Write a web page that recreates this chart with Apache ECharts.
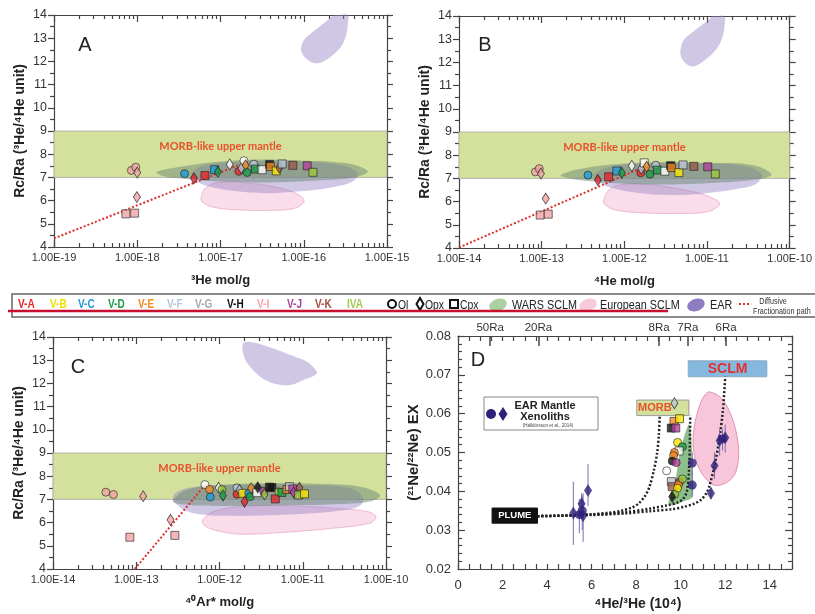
<!DOCTYPE html>
<html>
<head>
<meta charset="utf-8">
<script src="https://cdn.jsdelivr.net/npm/echarts@6/dist/echarts.min.js"></script>
<style>
html,body{margin:0;padding:0;background:#fff;}
#chart{width:815px;height:614px;}
</style>
</head>
<body>
<div id="chart"></div>
<script>
// ---------- sample groups and minerals ----------
const groupNames      = ['V-A','V-B','V-C','V-D','V-E','V-F','V-G','V-H','V-I','V-J','V-K','IVA'];
const groupTextColors = ['#e3262b','#efe000','#1f9bd7','#1d9a47','#f28a23','#b5c7dc','#a9a9a9','#111111','#f4a3ab','#a2479b','#a24c45','#a3c955'];
const groupFills      = ['#e3262b','#f7e600','#1f9bd7','#1d9a47','#f28a23','#b9c6d6','#ffffff','#111111','#f0a3a3','#b0449a','#9b5a4a','#9bc83c'];
const mineralNames    = ['Ol','Opx','Cpx'];
const mineralSymbols  = ['circle','diamond','rect'];
const mineralSizes    = [[8,8],[7,11],[8,8]];

// ---------- panel A : 3He (mol/g) vs Rc/Ra ----------
const ptsA = [
  [8.5e-19,7.30,'V-I','Ol'],[9.6e-19,7.44,'V-I','Ol'],[1.0e-18,7.21,'V-I','Opx'],
  [9.9e-19,6.15,'V-I','Opx'],[7.3e-19,5.43,'V-I','Cpx'],[9.3e-19,5.46,'V-I','Cpx'],
  [3.7e-18,7.16,'V-C','Ol'],[4.8e-18,6.96,'V-A','Opx'],[6.5e-18,7.08,'V-A','Cpx'],
  [8.5e-18,7.33,'V-C','Cpx'],[9.3e-18,7.24,'V-D','Opx'],[1.29e-17,7.56,'V-G','Opx'],
  [1.66e-17,7.26,'V-A','Ol'],[1.78e-17,7.40,'V-F','Opx'],[1.91e-17,7.72,'V-G','Ol'],
  [2.0e-17,7.52,'V-E','Opx'],[2.09e-17,7.21,'V-D','Ol'],[2.51e-17,7.57,'V-F','Ol'],
  [2.63e-17,7.36,'V-D','Cpx'],[3.16e-17,7.33,'V-G','Cpx'],[3.89e-17,7.56,'V-H','Cpx'],
  [3.98e-17,7.47,'V-E','Cpx'],[4.68e-17,7.28,'V-B','Cpx'],[5.1e-17,7.42,'V-K','Opx'],
  [5.5e-17,7.58,'V-F','Cpx'],[7.4e-17,7.52,'V-K','Cpx'],[1.1e-16,7.50,'V-J','Cpx'],
  [1.29e-16,7.22,'IVA','Cpx']
];
const fracA = [[1e-19,4.37],[1.7e-17,7.55]];

// ---------- panel B : 4He (mol/g) vs Rc/Ra ----------
const ptsB = [
  [8.4e-14,7.28,'V-I','Ol'],[9.35e-14,7.42,'V-I','Ol'],[9.8e-14,7.21,'V-I','Opx'],
  [1.12e-13,6.13,'V-I','Opx'],[9.6e-14,5.42,'V-I','Cpx'],[1.2e-13,5.46,'V-I','Cpx'],
  [3.63e-13,7.14,'V-C','Ol'],[4.79e-13,6.93,'V-A','Opx'],[6.46e-13,7.07,'V-A','Cpx'],
  [8.13e-13,7.32,'V-C','Cpx'],[9.33e-13,7.24,'V-D','Opx'],[1.23e-12,7.54,'V-G','Opx'],
  [1.58e-12,7.24,'V-A','Ol'],[1.6e-12,7.42,'V-F','Opx'],[1.74e-12,7.67,'V-G','Cpx'],
  [1.86e-12,7.50,'V-E','Opx'],[2.04e-12,7.18,'V-D','Ol'],[2.4e-12,7.57,'V-F','Ol'],
  [2.51e-12,7.36,'V-D','Cpx'],[3.09e-12,7.31,'V-G','Cpx'],[3.63e-12,7.55,'V-H','Cpx'],
  [3.72e-12,7.47,'V-E','Cpx'],[4.57e-12,7.25,'V-B','Cpx'],[5.13e-12,7.58,'V-F','Cpx'],
  [6.92e-12,7.52,'V-K','Cpx'],[1.02e-11,7.50,'V-J','Cpx'],[1.26e-11,7.19,'IVA','Cpx']
];
const fracB = [[1e-14,4.02],[1.86e-12,7.55]];

// ---------- panel C : 40Ar* (mol/g) vs Rc/Ra ----------
const ptsC = [
  [4.31e-14,7.31,'V-I','Ol'],[5.32e-14,7.21,'V-I','Ol'],[1.21e-13,7.14,'V-I','Opx'],
  [2.58e-13,6.12,'V-I','Opx'],[8.38e-14,5.37,'V-I','Cpx'],[2.91e-13,5.45,'V-I','Cpx'],
  [6.68e-13,7.64,'V-G','Ol'],[7.59e-13,7.43,'V-E','Ol'],[7.76e-13,7.10,'V-C','Ol'],
  [9.77e-13,7.50,'V-G','Opx'],[1.07e-12,7.43,'IVA','Ol'],[1.10e-12,7.17,'V-D','Opx'],
  [1.62e-12,7.50,'V-F','Ol'],[1.62e-12,7.22,'V-A','Ol'],[1.74e-12,7.40,'V-F','Opx'],
  [1.9e-12,7.26,'V-B','Cpx'],[2.0e-12,6.90,'V-A','Opx'],[2.24e-12,7.26,'V-C','Ol'],
  [2.34e-12,7.12,'V-D','Ol'],[2.4e-12,7.48,'V-E','Opx'],[2.82e-12,7.29,'V-G','Cpx'],
  [2.88e-12,7.52,'V-H','Opx'],[3.39e-12,7.36,'V-J','Ol'],[3.47e-12,7.22,'IVA','Opx'],
  [3.98e-12,7.53,'V-H','Cpx'],[4.27e-12,7.51,'V-H','Cpx'],[4.68e-12,7.02,'V-A','Cpx'],
  [5.13e-12,7.33,'IVA','Ol'],[5.62e-12,7.30,'V-D','Cpx'],[6.46e-12,7.43,'V-E','Cpx'],
  [6.92e-12,7.55,'V-F','Cpx'],[7.59e-12,7.45,'V-J','Cpx'],[7.76e-12,7.30,'V-J','Opx'],
  [9.12e-12,7.50,'V-K','Opx'],[8.91e-12,7.19,'IVA','Cpx'],[1.05e-11,7.24,'V-B','Cpx']
];
const fracC = [[9.6e-14,4.0],[6.7e-13,7.62]];

// MORB-like upper mantle band (Rc/Ra)
const morbBand = [7, 9];

// ---------- field outlines for panels A-C (x in log10 mol/g, y in Rc/Ra) ----------
const earTopA = [[-16.03,12.64],[-15.99,12.95],[-15.91,13.21],[-15.81,13.50],[-15.71,13.78],[-15.65,13.97],[-15.57,14.0],[-15.47,14.0],[-15.47,13.64],[-15.49,13.14],[-15.55,12.64],[-15.65,12.28],[-15.77,11.99],[-15.87,11.92],[-15.95,12.06],[-16.02,12.35]];
const warsA   = [[-17.77,7.23],[-17.57,7.40],[-17.17,7.62],[-16.65,7.76],[-16.05,7.73],[-15.45,7.59],[-15.23,7.26],[-15.37,7.01],[-15.85,6.87],[-16.45,6.78],[-17.05,6.83],[-17.53,6.97],[-17.71,7.08]];
const earLowA = [[-17.35,7.19],[-17.17,7.54],[-16.65,7.69],[-16.05,7.69],[-15.57,7.54],[-15.35,7.19],[-15.41,6.83],[-15.65,6.58],[-16.05,6.40],[-16.45,6.32],[-16.85,6.42],[-17.17,6.64],[-17.31,6.90]];
const eurA    = [[-17.23,6.18],[-17.17,6.58],[-17.01,6.80],[-16.65,6.75],[-16.25,6.51],[-16.03,6.18],[-16.00,5.92],[-16.13,5.65],[-16.45,5.58],[-16.85,5.61],[-17.09,5.72],[-17.22,5.94]];

const earTopB = [[-11.32,12.58],[-11.28,12.97],[-11.20,13.23],[-11.10,13.51],[-11.00,13.77],[-10.94,13.97],[-10.86,14.0],[-10.79,14.0],[-10.79,13.51],[-10.82,13.01],[-10.90,12.51],[-11.02,12.11],[-11.14,11.84],[-11.22,11.87],[-11.29,12.08],[-11.32,12.34]];
const warsB   = [[-12.77,7.14],[-12.57,7.38],[-12.17,7.60],[-11.65,7.70],[-11.04,7.67],[-10.44,7.57],[-10.22,7.18],[-10.36,6.97],[-10.84,6.82],[-11.44,6.74],[-12.05,6.78],[-12.53,6.92],[-12.71,7.04]];
const earLowB = [[-12.37,7.14],[-12.17,7.50],[-11.65,7.64],[-11.04,7.64],[-10.56,7.54],[-10.34,7.18],[-10.40,6.78],[-10.64,6.54],[-11.04,6.35],[-11.44,6.28],[-11.85,6.38],[-12.17,6.61],[-12.31,6.85]];
const eurB    = [[-12.25,6.06],[-12.19,6.49],[-12.03,6.74],[-11.65,6.71],[-11.16,6.42],[-10.88,6.06],[-10.85,5.85],[-11.00,5.56],[-11.36,5.49],[-11.85,5.53],[-12.13,5.66],[-12.24,5.89]];

const earTopC = [[-11.72,13.71],[-11.65,13.79],[-11.47,13.64],[-11.19,13.28],[-10.95,12.93],[-10.83,12.50],[-10.85,12.36],[-10.99,12.15],[-11.15,11.93],[-11.35,12.00],[-11.51,12.29],[-11.65,12.79],[-11.71,13.21]];
const warsC   = [[-12.56,6.98],[-12.40,7.41],[-12.03,7.62],[-11.43,7.70],[-10.83,7.67],[-10.31,7.55],[-10.07,7.19],[-10.19,6.91],[-10.63,6.79],[-11.23,6.75],[-11.83,6.72],[-12.32,6.75],[-12.54,6.84]];
const earLowC = [[-12.56,7.12],[-12.40,7.48],[-11.83,7.62],[-11.03,7.62],[-10.43,7.48],[-10.27,7.05],[-10.33,6.69],[-10.63,6.48],[-11.23,6.34],[-11.83,6.29],[-12.24,6.36],[-12.46,6.62]];
const eurC    = [[-12.20,6.12],[-12.07,6.48],[-11.75,6.69],[-11.23,6.74],[-10.63,6.62],[-10.23,6.48],[-10.12,6.26],[-10.19,5.98],[-10.63,5.76],[-11.23,5.58],[-11.75,5.50],[-12.07,5.69],[-12.19,5.91]];

// ---------- panel D : 4He/3He (10^4) vs (21Ne/22Ne)EX ----------
const ptsD = [
  [9.72,0.0627,'V-F','Opx'],[9.70,0.0580,'V-E','Cpx'],[9.95,0.0587,'V-B','Cpx'],
  [9.58,0.0563,'V-H','Cpx'],[9.78,0.0563,'V-J','Cpx'],[9.86,0.0526,'V-B','Ol'],
  [10.08,0.0515,'V-D','Ol'],[9.93,0.0504,'V-G','Cpx'],[9.72,0.0500,'V-E','Ol'],
  [9.68,0.0492,'V-E','Ol'],[9.62,0.0478,'V-H','Ol'],[9.80,0.0474,'V-J','Ol'],
  [9.37,0.0453,'V-G','Ol'],[9.58,0.0425,'V-F','Cpx'],[9.62,0.0412,'V-K','Cpx'],
  [9.95,0.0424,'V-A','Ol'],[9.90,0.0417,'V-E','Ol'],[10.08,0.0432,'IVA','Ol'],
  [9.86,0.0408,'V-B','Ol'],[9.73,0.0392,'IVA','Ol'],[9.62,0.0386,'V-H','Opx']
];
// EAR mantle xenoliths: [shape, x, y, low, high]
const earXenoliths = [
  ['diamond',5.18,0.0344,0.0262,0.0425],['circle',5.45,0.0340,0.0292,0.0380],
  ['diamond',5.55,0.0368,0.0330,0.0395],['circle',5.58,0.0350,0.0300,0.0390],
  ['diamond',5.62,0.0337,0.0270,0.0395],['diamond',5.84,0.0402,0.0362,0.0470],
  ['circle',10.52,0.0473,0.0440,0.0500],['circle',10.52,0.0416,0.0385,0.0450],
  ['diamond',11.36,0.0395,0.0380,0.0410],['diamond',11.52,0.0466,0.0432,0.0500],
  ['diamond',11.75,0.0531,0.0492,0.0560],['circle',11.88,0.0535,0.0505,0.0560],
  ['diamond',12.00,0.0538,0.0500,0.0572]
];
// mixing curves from the plume end-member
const mixToRa8  = [[3.57,0.0336],[5,0.0338],[6,0.0341],[6.8,0.0345],[7.33,0.0350],[7.8,0.0358],[8.1,0.0368],[8.4,0.0388],[8.6,0.0412],[8.8,0.0455],[8.94,0.0498],[9.02,0.0545],[9.06,0.0595]];
const mixToMorb = [[3.57,0.0336],[6,0.0340],[7.5,0.0346],[8.65,0.0356],[9.4,0.0364],[9.85,0.0371],[10.1,0.0380],[10.28,0.0400],[10.37,0.0450],[10.41,0.0520],[10.43,0.0595]];
const mixToSclm = [[3.57,0.0336],[6,0.0339],[7.5,0.0343],[8.65,0.0349],[9.6,0.0354],[10.15,0.0360],[10.6,0.0368],[10.91,0.0378],[11.15,0.0395],[11.28,0.0412],[11.51,0.0463],[11.73,0.0532],[11.9,0.0610],[12.0,0.0695]];
const warsD = [[10.38,0.0572],[10.10,0.0530],[9.93,0.0490],[9.80,0.0440],[9.62,0.0392],[9.45,0.0372],[9.62,0.0364],[10.10,0.0374],[10.52,0.0386],[10.53,0.0450],[10.50,0.0520]];
const eurD  = [[11.31,0.0656],[11.84,0.0639],[12.29,0.0592],[12.56,0.0532],[12.59,0.0481],[12.37,0.0438],[11.84,0.0417],[11.39,0.0419],[10.86,0.0455],[10.58,0.0506],[10.61,0.0566],[10.86,0.0622],[11.09,0.0648]];
const morbBoxD  = [8.03,0.0595,10.37,0.0635];
const sclmBoxD  = [10.34,0.0695,13.87,0.0736];
const plumeBoxD = [1.53,0.0318,3.57,0.0357];

// tick labels
const rcTicks   = [4,5,6,7,8,9,10,11,12,13,14];
const dXLabels  = [0,2,4,6,8,10,12,14];
const raValues  = [50,20,8,7,6];
const RA = 1.384e-6; // atmospheric 3He/4He
const raPos = raValues.map(r => 1 / (r * RA) / 1e4);

// ---------- helpers ----------
const FONT = "'Liberation Sans', Arial, sans-serif";
const AXIS_COLOR = '#444';
const NARROW_SCALE = 0.8; // condensed legend lettering
const lg = Math.log10;

function logMinorTicks(e0, e1) {
  const v = [];
  for (let d = e0; d < e1; d++) for (let k = 2; k <= 9; k++) v.push(d + lg(k));
  return v;
}
function symbolItem(x, y, g, m) {
  const gi = groupNames.indexOf(g), mi = mineralNames.indexOf(m);
  return { value: [x, y], symbol: mineralSymbols[mi], symbolSize: mineralSizes[mi],
           itemStyle: { color: groupFills[gi], borderColor: '#222', borderWidth: 0.8 } };
}
function regionSeries(xi, yi, outline, fill, stroke, z) {
  return {
    type: 'custom', xAxisIndex: xi, yAxisIndex: yi, silent: true, z: z,
    data: [outline[0]],
    renderItem: (params, api) => ({
      type: 'polygon',
      shape: { points: outline.map(p => api.coord(p)), smooth: 0.35 },
      style: { fill: fill, stroke: stroke || null, lineWidth: stroke ? 1 : 0 }
    })
  };
}

function bandSeries(xi, yi, e0, e1) {
  return {
    type: 'custom', xAxisIndex: xi, yAxisIndex: yi, silent: true, z: 1,
    data: [[e0, morbBand[0], e1, morbBand[1]]],
    renderItem: (params, api) => {
      const a = api.coord([api.value(0), api.value(3)]);
      const b = api.coord([api.value(2), api.value(1)]);
      const t = api.coord([(api.value(0) + api.value(2)) / 2, 8.35]);
      return { type: 'group', children: [
        { type: 'rect', shape: { x: a[0], y: a[1], width: b[0] - a[0], height: b[1] - a[1] },
          style: { fill: '#d4e19c', stroke: '#a5a5a5', lineWidth: 0.8 } },
        { type: 'text', x: t[0], y: t[1],
          style: { text: 'MORB-like upper mantle', fill: '#e9502c', font: "bold 11px Lato, 'Open Sans', sans-serif",
                   align: 'center', verticalAlign: 'middle' } }
      ]};
    }
  };
}
function boxSeries(xi, yi, box, fill, stroke, label, color, font, dx) {
  return {
    type: 'custom', xAxisIndex: xi, yAxisIndex: yi, silent: true, z: 3,
    data: [box],
    renderItem: (params, api) => {
      const a = api.coord([api.value(0), api.value(3)]);
      const b = api.coord([api.value(2), api.value(1)]);
      return { type: 'group', children: [
        { type: 'rect', shape: { x: a[0], y: a[1], width: b[0] - a[0], height: b[1] - a[1] },
          style: { fill: fill, stroke: stroke, lineWidth: 1 } },
        { type: 'text', x: (a[0] + b[0]) / 2 + dx, y: (a[1] + b[1]) / 2,
          style: { text: label, fill: color, font: font, align: 'center', verticalAlign: 'middle' } }
      ]};
    }
  };
}

// ---------- axes ----------
const grids = [
  { left: 54, top: 15, width: 333, height: 232 },
  { left: 459, top: 16, width: 333, height: 232 },
  { left: 53, top: 337, width: 333, height: 232 },
  { left: 458, top: 336, width: 334, height: 233 }
];
const xAxes = [], yAxes = [];
const lineStyle = { color: AXIS_COLOR, width: 1.2 };

function addLogPanel(gi, e0, e1, xName, yName) {
  const base = xAxes.length;
  xAxes.push({ gridIndex: gi, type: 'value', min: e0, max: e1, interval: 1, position: 'bottom',
    axisLine: { show: true, onZero: false, lineStyle }, splitLine: { show: false },
    axisTick: { inside: true, length: 7, lineStyle },
    axisLabel: { fontSize: 11, color: '#333', fontFamily: FONT, margin: 5,
                 formatter: v => Math.pow(10, v).toExponential(2).toUpperCase() },
    name: xName, nameLocation: 'middle', nameGap: 27,
    nameTextStyle: { fontSize: 13, fontWeight: 'bold', color: '#222', fontFamily: FONT } });
  xAxes.push({ gridIndex: gi, type: 'value', min: e0, max: e1, interval: 1, position: 'top',
    axisLine: { show: true, onZero: false, lineStyle }, splitLine: { show: false },
    axisTick: { inside: true, length: 7, lineStyle }, axisLabel: { show: false } });
  const minor = logMinorTicks(e0, e1);
  ['bottom', 'top'].forEach(pos => xAxes.push({ gridIndex: gi, type: 'value', min: e0, max: e1, position: pos,
    axisLine: { show: false, onZero: false }, splitLine: { show: false },
    axisTick: { inside: true, length: 4, customValues: minor, lineStyle }, axisLabel: { show: false } }));
  const yb = yAxes.length;
  yAxes.push({ gridIndex: gi, type: 'value', min: rcTicks[0], max: rcTicks[rcTicks.length - 1], interval: 1, position: 'left',
    axisLine: { show: true, onZero: false, lineStyle }, splitLine: { show: false },
    axisTick: { inside: false, length: 6, lineStyle },
    minorTick: { show: true, splitNumber: 2, length: 4, lineStyle },
    axisLabel: { fontSize: 12.5, color: '#333', fontFamily: FONT, margin: 7 },
    name: yName, nameLocation: 'middle', nameGap: 27,
    nameTextStyle: { fontSize: 14, fontWeight: 'bold', color: '#222', fontFamily: FONT } });
  yAxes.push({ gridIndex: gi, type: 'value', min: rcTicks[0], max: rcTicks[rcTicks.length - 1], interval: 1, position: 'right',
    axisLine: { show: true, onZero: false, lineStyle }, splitLine: { show: false },
    axisTick: { inside: false, length: 6, lineStyle },
    minorTick: { show: true, splitNumber: 2, length: 4, lineStyle },
    axisLabel: { show: false } });
  return { x: base, y: yb };
}

const axA = addLogPanel(0, -19, -15, '³He mol/g', 'Rc/Ra (³He/⁴He unit)');
const axB = addLogPanel(1, -14, -10, '⁴He mol/g', 'Rc/Ra (³He/⁴He unit)');
const axC = addLogPanel(2, -14, -10, '⁴⁰Ar* mol/g', 'Rc/Ra (³He/⁴He unit)');

// panel D axes
const dMinor = [];
for (let v = 0; v <= 15; v += 0.5) dMinor.push(v);
const axD = { x: xAxes.length, y: yAxes.length };
xAxes.push({ gridIndex: 3, type: 'value', min: 0, max: 15, position: 'bottom',
  axisLine: { show: true, onZero: false, lineStyle }, splitLine: { show: false },
  axisTick: { inside: true, length: 5, customValues: dMinor, lineStyle },
  axisLabel: { customValues: dXLabels, fontSize: 13, color: '#333', fontFamily: FONT, margin: 10 },
  name: '⁴He/³He (10⁴)', nameLocation: 'middle', nameGap: 28,
  nameTextStyle: { fontSize: 14, fontWeight: 'bold', color: '#222', fontFamily: FONT, padding: [0, 0, 0, 26] } });
xAxes.push({ gridIndex: 3, type: 'value', min: 0, max: 15, position: 'top',
  axisLine: { show: true, onZero: false, lineStyle }, splitLine: { show: false },
  axisTick: { inside: true, length: 5, customValues: dMinor, lineStyle }, axisLabel: { show: false } });
xAxes.push({ gridIndex: 3, type: 'value', min: 0, max: 15, position: 'top',
  axisLine: { show: false, onZero: false }, splitLine: { show: false },
  axisTick: { inside: true, length: 10, customValues: raPos, lineStyle: { color: AXIS_COLOR, width: 1.5 } },
  axisLabel: { customValues: raPos, fontSize: 11.5, color: '#333', fontFamily: FONT, margin: 2,
    formatter: v => raValues[raPos.findIndex(p => Math.abs(p - v) < 1e-6)] + 'Ra' } });
yAxes.push({ gridIndex: 3, type: 'value', min: 0.02, max: 0.08, interval: 0.01, position: 'left',
  axisLine: { show: true, onZero: false, lineStyle }, splitLine: { show: false },
  axisTick: { inside: true, length: 7, lineStyle },
  minorTick: { show: true, splitNumber: 5, length: 4, lineStyle },
  axisLabel: { fontSize: 13, color: '#333', fontFamily: FONT, margin: 7, formatter: v => v.toFixed(2) },
  name: '(²¹Ne/²²Ne) EX', nameLocation: 'middle', nameGap: 37,
  nameTextStyle: { fontSize: 15, fontWeight: 'bold', color: '#222', fontFamily: FONT } });
yAxes.push({ gridIndex: 3, type: 'value', min: 0.02, max: 0.08, interval: 0.01, position: 'right',
  axisLine: { show: true, onZero: false, lineStyle }, splitLine: { show: false },
  axisTick: { inside: true, length: 7, lineStyle },
  minorTick: { show: true, splitNumber: 5, length: 4, lineStyle },
  axisLabel: { show: false } });

// ---------- series ----------
const WARS = 'rgba(105,135,115,0.5)';
const EAR = 'rgba(150,130,195,0.45)';
const EUR = 'rgba(242,165,200,0.38)';
const EUR_LINE = 'rgba(225,140,180,0.55)';
const series = [];

function addLogPanelSeries(ax, e0, e1, pts, frac, earTop, wars, earLow, eur) {
  series.push(bandSeries(ax.x, ax.y, e0, e1));
  series.push(regionSeries(ax.x, ax.y, eur, EUR, EUR_LINE, 2));
  series.push(regionSeries(ax.x, ax.y, earLow, EAR, null, 2));
  series.push(regionSeries(ax.x, ax.y, earTop, EAR, null, 2));
  series.push(regionSeries(ax.x, ax.y, wars, WARS, null, 3));
  series.push({ type: 'line', xAxisIndex: ax.x, yAxisIndex: ax.y, silent: true, z: 4,
    data: frac.map(p => [lg(p[0]), p[1]]), symbol: 'none',
    lineStyle: { color: '#d9312b', width: 2, type: [2, 2] } });
  series.push({ type: 'scatter', xAxisIndex: ax.x, yAxisIndex: ax.y, silent: true, z: 6,
    data: pts.map(p => symbolItem(lg(p[0]), p[1], p[2], p[3])) });
}
addLogPanelSeries(axA, -19, -15, ptsA, fracA, earTopA, warsA, earLowA, eurA);
addLogPanelSeries(axB, -14, -10, ptsB, fracB, earTopB, warsB, earLowB, eurB);
addLogPanelSeries(axC, -14, -10, ptsC, fracC, earTopC, warsC, earLowC, eurC);

// panel D
series.push(regionSeries(axD.x, axD.y, eurD, '#f7c6da', '#e393b4', 2));
series.push(regionSeries(axD.x, axD.y, warsD, '#8dbf8b', null, 2));
[mixToRa8, mixToMorb, mixToSclm].forEach(c => series.push({
  type: 'line', xAxisIndex: axD.x, yAxisIndex: axD.y, silent: true, z: 4, smooth: 0.3,
  data: c, symbol: 'none', lineStyle: { color: '#222', width: 2.5, type: [2, 2] } }));
series.push(boxSeries(axD.x, axD.y, morbBoxD, '#d4e19c', '#9a9a9a', 'MORB', '#e9502c', "bold 11px 'Liberation Sans', Arial, sans-serif", -8));
series.push(boxSeries(axD.x, axD.y, sclmBoxD, '#84b8de', '#8aa8c0', 'SCLM', '#e3302c', "bold 14px 'Liberation Sans', Arial, sans-serif", 0));
series.push(boxSeries(axD.x, axD.y, plumeBoxD, '#111111', '#111111', 'PLUME', '#ffffff', "bold 9.5px 'Liberation Sans', Arial, sans-serif", 0));
series.push({
  type: 'custom', xAxisIndex: axD.x, yAxisIndex: axD.y, silent: true, z: 5,
  data: earXenoliths.map(r => [r[1], r[3], r[4]]),
  renderItem: (params, api) => {
    const a = api.coord([api.value(0), api.value(1)]);
    const b = api.coord([api.value(0), api.value(2)]);
    return { type: 'line', shape: { x1: a[0], y1: a[1], x2: b[0], y2: b[1] },
             style: { stroke: '#7a6db3', lineWidth: 1 } };
  }
});
series.push({ type: 'scatter', xAxisIndex: axD.x, yAxisIndex: axD.y, silent: true, z: 6,
  data: earXenoliths.map(r => ({ value: [r[1], r[2]], symbol: r[0],
    symbolSize: r[0] === 'circle' ? 9 : [8, 13], itemStyle: { color: '#2e1f78' } })) });
series.push({ type: 'scatter', xAxisIndex: axD.x, yAxisIndex: axD.y, silent: true, z: 6,
  data: ptsD.map(p => symbolItem(p[0], p[1], p[2], p[3])) });

// ---------- legend strip and annotations ----------
const legendY = 305;
const groupX = [18, 50, 78, 108, 138, 167, 195, 227, 257, 287, 315, 347];
function narrowText(x, y, text, fill, font, align) {
  return { type: 'text', x: x, y: y, scaleX: NARROW_SCALE, z: 11,
    style: { text: text, fill: fill, font: font, align: align || 'left', verticalAlign: 'middle' } };
}
const graphics = [
  { type: 'rect', shape: { x: 12, y: 294, width: 815, height: 23 }, style: { fill: '#fff', stroke: '#666', lineWidth: 1.5 }, z: 10 }
];
groupNames.forEach((g, i) => graphics.push(narrowText(groupX[i], legendY, g, groupTextColors[i], 'bold 12.5px ' + FONT)));
graphics.push(
  { type: 'circle', shape: { cx: 392, cy: legendY - 1, r: 4 }, style: { fill: '#fff', stroke: '#111', lineWidth: 2 }, z: 11 },
  narrowText(398, legendY, 'Ol', '#222', '13px ' + FONT),
  { type: 'polygon', shape: { points: [[420, 298], [423.5, 304], [420, 310], [416.5, 304]] }, style: { fill: '#fff', stroke: '#111', lineWidth: 2 }, z: 11 },
  narrowText(425, legendY, 'Opx', '#222', '13px ' + FONT),
  { type: 'rect', shape: { x: 450, y: 300, width: 8, height: 8 }, style: { fill: '#fff', stroke: '#111', lineWidth: 2 }, z: 11 },
  narrowText(460, legendY, 'Cpx', '#222', '13px ' + FONT),
  { type: 'ellipse', shape: { cx: 0, cy: 0, rx: 9, ry: 6 }, x: 498, y: legendY, rotation: 0.35, style: { fill: '#a9d1a2' }, z: 11 },
  narrowText(512, legendY, 'WARS SCLM', '#222', '13.5px ' + FONT),
  { type: 'ellipse', shape: { cx: 0, cy: 0, rx: 9, ry: 6 }, x: 588, y: legendY, rotation: 0.35, style: { fill: '#f7cbdc' }, z: 11 },
  narrowText(600, legendY, 'European SCLM', '#222', '13.5px ' + FONT),
  { type: 'ellipse', shape: { cx: 0, cy: 0, rx: 9, ry: 6 }, x: 696, y: legendY, rotation: 0.35, style: { fill: '#8e7cc2' }, z: 11 },
  narrowText(710, legendY, 'EAR', '#222', '13.5px ' + FONT),
  { type: 'line', shape: { x1: 739, y1: 304, x2: 751, y2: 304 }, style: { stroke: '#d9312b', lineWidth: 2, lineDash: [2, 2] }, z: 11 },
  narrowText(773, 302, 'Diffusive', '#333', '9px ' + FONT, 'center'),
  narrowText(753, 312, 'Fractionation path', '#333', '9px ' + FONT),
  { type: 'line', shape: { x1: 8, y1: 311, x2: 668, y2: 311 }, style: { stroke: '#c8102e', lineWidth: 2.5 }, z: 12 },
  // panel letters
  { type: 'text', x: 85, y: 45, z: 11, style: { text: 'A', fill: '#222', font: '20px ' + FONT, align: 'center', verticalAlign: 'middle' } },
  { type: 'text', x: 485, y: 45, z: 11, style: { text: 'B', fill: '#222', font: '20px ' + FONT, align: 'center', verticalAlign: 'middle' } },
  { type: 'text', x: 78, y: 367, z: 11, style: { text: 'C', fill: '#222', font: '20px ' + FONT, align: 'center', verticalAlign: 'middle' } },
  { type: 'text', x: 478, y: 360, z: 11, style: { text: 'D', fill: '#222', font: '20px ' + FONT, align: 'center', verticalAlign: 'middle' } },
  // panel D key
  { type: 'rect', shape: { x: 484, y: 397, width: 114, height: 33 }, style: { fill: '#fff', stroke: '#888', lineWidth: 1 }, z: 11 },
  { type: 'circle', shape: { cx: 491, cy: 414, r: 5 }, style: { fill: '#2e1f78' }, z: 12 },
  { type: 'polygon', shape: { points: [[503, 407], [507.5, 414], [503, 421], [498.5, 414]] }, style: { fill: '#2e1f78' }, z: 12 },
  { type: 'text', x: 545, y: 406, z: 12, style: { text: 'EAR Mantle', fill: '#222', font: 'bold 11px ' + FONT, align: 'center', verticalAlign: 'middle' } },
  { type: 'text', x: 545, y: 417, z: 12, style: { text: 'Xenoliths', fill: '#222', font: 'bold 11px ' + FONT, align: 'center', verticalAlign: 'middle' } },
  { type: 'text', x: 548, y: 426, z: 12, style: { text: '(Halldórsson et al., 2014)', fill: '#444', font: '4.5px ' + FONT, align: 'center', verticalAlign: 'middle' } }
);

const chart = echarts.init(document.getElementById('chart'), null, { renderer: 'canvas' });
chart.setOption({
  animation: false,
  backgroundColor: '#ffffff',
  grid: grids,
  xAxis: xAxes,
  yAxis: yAxes,
  series: series,
  graphic: { elements: graphics }
});
</script>
</body>
</html>
